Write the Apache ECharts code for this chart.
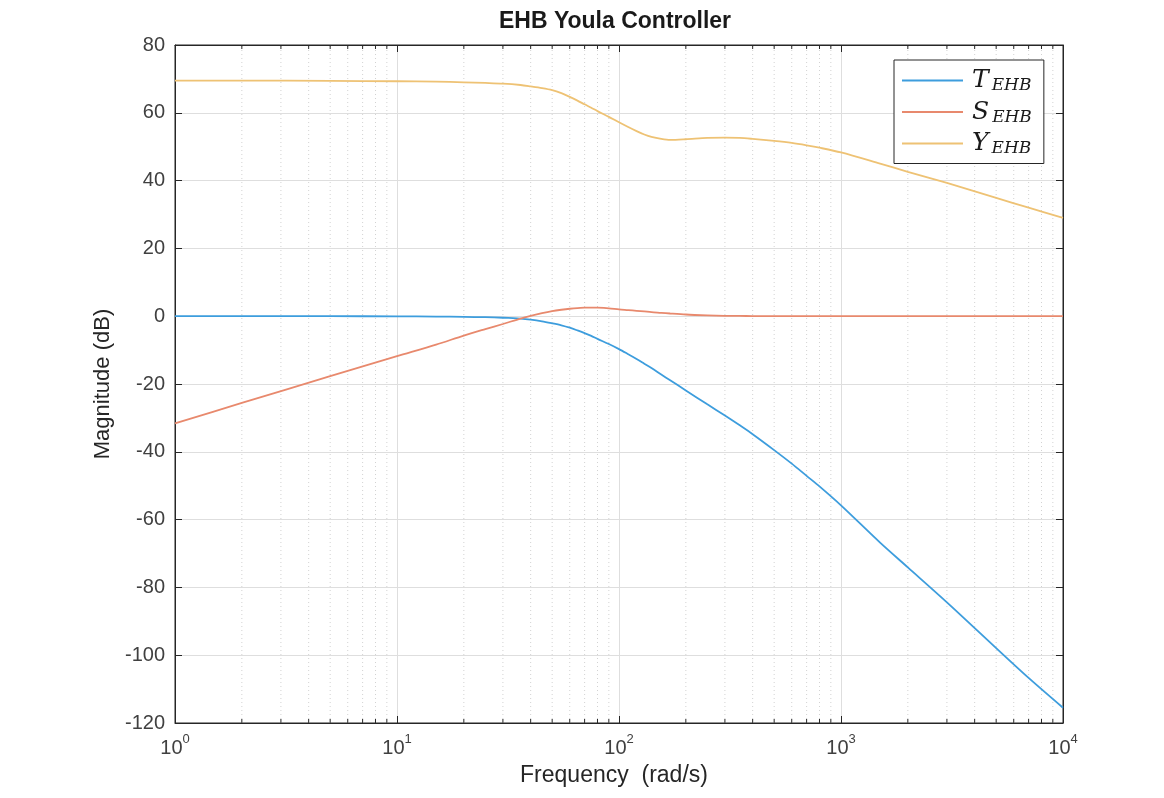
<!DOCTYPE html>
<html>
<head>
<meta charset="utf-8">
<title>EHB Youla Controller</title>
<script src="https://cdn.jsdelivr.net/npm/echarts@6/dist/echarts.min.js"></script>
<style>
  html, body { margin: 0; padding: 0; background: #fff; }
  #main { width: 1164px; height: 798px; }
</style>
</head>
<body>
<div id="main"></div>
<script>
  // frequency points (rad/s), shared by the three curves
  var freq = [1, 2, 5, 10, 15, 20, 25, 30, 36, 40, 45, 50, 55, 60, 65, 70, 75, 80, 90, 100, 110, 120, 130, 140, 155, 170, 200, 250, 300, 350, 400, 500, 600, 700, 800, 1000, 1500, 2000, 3000, 5000, 7000, 10000];
  // magnitudes in dB
  var magT = [0, 0, 0, -0.05, -0.1, -0.2, -0.3, -0.45, -0.7, -1.0, -1.5, -2.1, -2.7, -3.4, -4.2, -5.0, -5.8, -6.7, -8.2, -9.7, -11.2, -12.6, -14.0, -15.3, -17.2, -18.9, -21.9, -26.0, -29.3, -32.2, -34.8, -39.5, -43.5, -47.1, -50.2, -55.8, -66.8, -74.1, -84.4, -97.9, -106.7, -115.5];
  var magS = [-31.6, -25.6, -17.7, -11.8, -8.4, -5.7, -3.8, -2.3, -0.7, 0.1, 0.9, 1.5, 1.9, 2.2, 2.4, 2.5, 2.55, 2.5, 2.3, 2.0, 1.8, 1.6, 1.4, 1.2, 1.0, 0.8, 0.5, 0.25, 0.1, 0.07, 0.05, 0, 0, 0, 0, 0, 0, 0, 0, 0, 0, 0];
  var magY = [69.5, 69.5, 69.4, 69.3, 69.2, 69.0, 68.8, 68.6, 68.2, 67.8, 67.3, 66.7, 65.8, 64.7, 63.6, 62.5, 61.5, 60.5, 58.8, 57.2, 55.8, 54.6, 53.6, 52.9, 52.3, 52.0, 52.2, 52.6, 52.7, 52.6, 52.3, 51.7, 51.1, 50.4, 49.7, 48.3, 45.0, 42.6, 39.3, 34.9, 32.0, 29.0];
  var seriesNames = ['T_EHB', 'S_EHB', 'Y_EHB'];
  var colors = ['#3d9ddd', '#e8896d', '#eec274'];

  // minor log ticks 2..9 in each decade
  var minorFreq = [];
  [1, 10, 100, 1000].forEach(function(d) {
    for (var k = 2; k <= 9; k++) minorFreq.push(d * k);
  });

  var font = 'Liberation Sans, Arial, sans-serif';
  var axisColor = '#262626';

  function pairs(ys) {
    return freq.map(function(f, i) { return [f, ys[i]]; });
  }

  function renderMinor(params, api) {
    var f = api.value(0);
    var bot = api.coord([f, -120]);
    var top = api.coord([f, 80]);
    return {
      type: 'group',
      children: [
        { type: 'line', shape: { x1: bot[0], y1: bot[1], x2: top[0], y2: top[1] },
          style: { stroke: '#d2d2d2', lineWidth: 1, lineDash: [1, 3] } },
        { type: 'line', shape: { x1: bot[0], y1: bot[1], x2: bot[0], y2: bot[1] - 4 },
          style: { stroke: axisColor, lineWidth: 1 } },
        { type: 'line', shape: { x1: top[0], y1: top[1], x2: top[0], y2: top[1] + 4 },
          style: { stroke: axisColor, lineWidth: 1 } }
      ]
    };
  }

  var myChart = echarts.init(document.getElementById('main'));
  var lineSeries = [magT, magS, magY].map(function(ys, i) {
    return {
      name: seriesNames[i],
      type: 'line',
      data: pairs(ys),
      showSymbol: false,
      symbol: 'none',
      smooth: 0.3,
      lineStyle: { color: colors[i], width: 1.8 },
      itemStyle: { color: colors[i] },
      z: 3
    };
  });

  var option = {
    animation: false,
    backgroundColor: '#fff',
    title: {
      text: 'EHB Youla Controller',
      left: 610,
      textAlign: 'center',
      top: 5,
      textStyle: { fontFamily: font, fontSize: 23, fontWeight: 'bold', color: '#1a1a1a' }
    },
    legend: {
      data: seriesNames,
      orient: 'vertical',
      left: 894,
      top: 60,
      icon: 'rect',
      itemWidth: 61,
      itemHeight: 2,
      itemGap: 5,
      padding: [8, 12, 6, 8],
      backgroundColor: '#fff',
      borderColor: axisColor,
      borderWidth: 1,
      formatter: function(name) {
        var p = name.split('_');
        return '{m|' + p[0] + '}{s|' + p[1] + '}';
      },
      textStyle: {
        rich: {
          m: { fontFamily: 'DejaVu Serif', fontStyle: 'italic', fontSize: 25, lineHeight: 28, color: '#1a1a1a', padding: [0, 0, 0, 4] },
          s: { fontFamily: 'DejaVu Serif', fontStyle: 'italic', fontSize: 17, lineHeight: 14, verticalAlign: 'bottom', color: '#1a1a1a', padding: [0, 0, 0, 3] }
        }
      },
      z: 10
    },
    grid: {
      left: 175, right: 101, top: 45, bottom: 75,
      show: true, borderColor: axisColor, borderWidth: 1
    },
    xAxis: [{
      type: 'log', logBase: 10, min: 1, max: 10000,
      name: 'Frequency  (rad/s)', nameLocation: 'middle', nameGap: 41,
      nameTextStyle: { fontFamily: font, fontSize: 23, color: '#262626', padding: [0, 10, 0, 0] },
      axisLine: { show: true, onZero: false, lineStyle: { color: axisColor } },
      axisTick: { show: true, inside: true, length: 7, lineStyle: { color: axisColor } },
      axisLabel: {
        margin: 10,
        formatter: function(v) {
          return '{b|10}{e|' + Math.round(Math.log10(v)) + '}';
        },
        rich: {
          b: { fontFamily: font, fontSize: 20, lineHeight: 30, color: '#404040' },
          e: { fontFamily: font, fontSize: 13, lineHeight: 10, verticalAlign: 'top', color: '#404040' }
        }
      },
      splitLine: { show: true, lineStyle: { color: '#dedede' } }
    }, {
      type: 'log', logBase: 10, min: 1, max: 10000, position: 'top',
      axisLine: { show: true, onZero: false, lineStyle: { color: axisColor } },
      axisTick: { show: true, inside: true, length: 7, lineStyle: { color: axisColor } },
      axisLabel: { show: false },
      splitLine: { show: false }
    }],
    yAxis: [{
      type: 'value', min: -120, max: 80, interval: 20,
      name: 'Magnitude (dB)', nameLocation: 'middle', nameGap: 58,
      nameTextStyle: { fontFamily: font, fontSize: 22, color: '#262626' },
      axisLine: { show: true, onZero: false, lineStyle: { color: axisColor } },
      axisTick: { show: true, inside: true, length: 7, lineStyle: { color: axisColor } },
      axisLabel: { margin: 10, fontFamily: font, fontSize: 20, color: '#404040' },
      splitLine: { show: true, lineStyle: { color: '#dedede' } }
    }, {
      type: 'value', min: -120, max: 80, interval: 20, position: 'right',
      axisLine: { show: true, onZero: false, lineStyle: { color: axisColor } },
      axisTick: { show: true, inside: true, length: 7, lineStyle: { color: axisColor } },
      axisLabel: { show: false },
      splitLine: { show: false }
    }],
    series: [{
      name: 'minor',
      type: 'custom',
      xAxisIndex: 0,
      yAxisIndex: 0,
      renderItem: renderMinor,
      data: minorFreq.map(function(f) { return [f, 0]; }),
      silent: true,
      z: 1
    }].concat(lineSeries)
  };
  myChart.setOption(option);
</script>
</body>
</html>
